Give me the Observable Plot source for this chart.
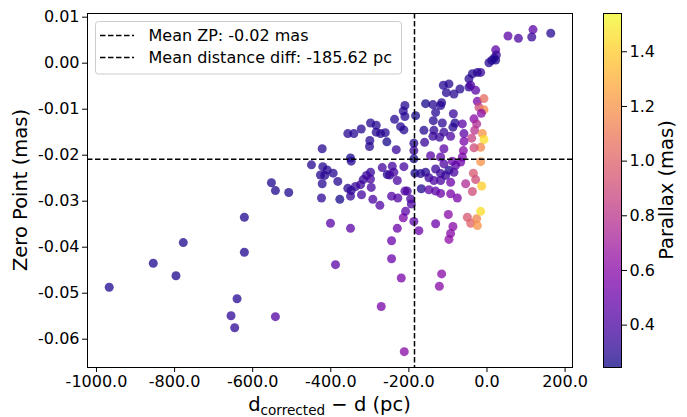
<!DOCTYPE html>
<html><head><meta charset="utf-8">
<script src="https://cdn.jsdelivr.net/npm/d3@7"></script>
<script src="https://cdn.jsdelivr.net/npm/@observablehq/plot@0.6"></script>
<style>
body{margin:0;background:#fff;font-family:"DejaVu Sans",sans-serif;}
#wrap{position:relative;width:687px;height:417px;overflow:hidden;}
#wrap svg{position:absolute;top:0;}
</style></head><body><div id="wrap"></div>
<script>
// d_corrected - d (pc)
const distDiff = [
  -967.4,-854.6,-796.4,-777.7,-640.0,-655.4,-646.1,-621.3,-621.3,-541.8,-552.0,-541.8,-507.7,
  -210.2,-214.4,-210.2,-236.7,-298.2,-283.6,-322.0,-221.3,-212.8,-356.4,-341.0,-283.6,-272.5,-260.5,-300.0,-256.4,-300.8,-232.3,-422.0,-349.5,-347.7,-449.5,-420.5,-409.2,-393.8,-426.4,-415.4,-382.0,-422.0,-242.6,-268.2,-212.8,-255.4,-249.5,-238.5,-229.7,-298.2,-308.5,-316.9,-323.8,-336.7,-298.2,-296.4,-356.4,-347.7,-349.5,-321.3,-376.9,-423.8,-292.3,-274.3,-244.3,-228.2,-210.2,-214.4,-400.8,-349.5,-229.7,
  -174.4,-244.3,-244.3,-387.9,-219.5,-270.8,-211.8,
  -116.1,-122.0,
  -46.2,-97.4,-111.8,-69.2,-46.2,-104.1,-84.6,-157.2,-138.5,-116.1,-118.7,-131.5,-182.8,-86.2,-33.3,-137.4,-114.4,-82.0,-63.1,-26.4,-161.5,-135.9,-110.3,-87.2,-59.0,-31.5,-138.5,-121.3,-93.1,-39.2,-11.8,-7.7,-187.2,-159.7,-59.0,-60.5,-16.2,-33.3,-110.3,-144.4,-118.7,-63.1,-88.7,-187.2,-187.2,-16.2,
  -184.6,-170.0,-157.2,-131.5,-148.7,-135.9,-118.7,-110.3,-97.4,-84.6,-80.3,-67.4,-118.7,-93.1,-105.9,-34.9,-29.0,-54.6,-13.6,-37.4,-168.2,-204.1,-148.7,-131.5,-118.7,-93.1,-75.9,-195.6,-193.8,-208.5,-187.2,-131.5,-99.0,-87.2,-93.1,-97.4,-50.3,-41.8,-26.4,-24.6,-16.2,
  117.9,163.3,114.6,80.5,53.8,22.3,24.1,17.9,12.1,5.1,22.3,-16.2,-24.6,-37.4,-41.8,-29.0,-24.6,-7.7,-20.5,-7.7,-14.4
];
// Zero point (mas)
const zeroPoint = [
  -0.0487,-0.0435,-0.0462,-0.0390,-0.0512,-0.0549,-0.0575,-0.0335,-0.0411,-0.0551,-0.0260,-0.0277,-0.0281,
  -0.0092,-0.0104,-0.0116,-0.0122,-0.0130,-0.0135,-0.0143,-0.0138,-0.0145,-0.0153,-0.0153,-0.0150,-0.0153,-0.0151,-0.0168,-0.0171,-0.0181,-0.0188,-0.0186,-0.0206,-0.0213,-0.0221,-0.0225,-0.0232,-0.0239,-0.0243,-0.0244,-0.0257,-0.0262,-0.0224,-0.0227,-0.0225,-0.0242,-0.0243,-0.0237,-0.0255,-0.0237,-0.0244,-0.0253,-0.0264,-0.0268,-0.0252,-0.0270,-0.0272,-0.0277,-0.0289,-0.0286,-0.0296,-0.0293,-0.0296,-0.0309,-0.0289,-0.0293,-0.0278,-0.0336,-0.0348,-0.0359,-0.0359,
  -0.0364,-0.0386,-0.0425,-0.0438,-0.0467,-0.0529,-0.0627,
  -0.0458,-0.0485,
  -0.0034,-0.0045,-0.0048,-0.0056,-0.0052,-0.0064,-0.0067,-0.0088,-0.0090,-0.0086,-0.0092,-0.0107,-0.0114,-0.0110,-0.0121,-0.0125,-0.0130,-0.0130,-0.0132,-0.0132,-0.0146,-0.0146,-0.0150,-0.0139,-0.0153,-0.0146,-0.0159,-0.0161,-0.0159,-0.0163,-0.0153,-0.0166,-0.0174,-0.0172,-0.0170,-0.0190,-0.0183,-0.0184,-0.0186,-0.0201,-0.0204,-0.0204,-0.0213,-0.0190,-0.0208,-0.0214,
  -0.0239,-0.0240,-0.0237,-0.0230,-0.0249,-0.0255,-0.0240,-0.0219,-0.0233,-0.0237,-0.0222,-0.0215,-0.0255,-0.0259,-0.0244,-0.0239,-0.0253,-0.0262,-0.0267,-0.0279,-0.0273,-0.0278,-0.0275,-0.0278,-0.0283,-0.0284,-0.0293,-0.0295,-0.0306,-0.0322,-0.0344,-0.0349,-0.0329,-0.0355,-0.0370,-0.0383,-0.0335,-0.0348,-0.0338,-0.0353,-0.0322,
  0.0073,0.0065,0.0057,0.0054,0.0059,0.0029,0.0018,0.0011,0.0006,0.0001,0.0007,-0.0020,-0.0020,-0.0023,-0.0048,-0.0059,-0.0083,-0.0077,-0.0096,-0.0101,-0.0109
];
// Parallax (mas)
const parallax = [
  0.28,0.28,0.28,0.28,0.30,0.32,0.32,0.28,0.28,0.42,0.28,0.28,0.28,
  0.30,0.30,0.30,0.30,0.30,0.30,0.30,0.30,0.30,0.30,0.30,0.30,0.30,0.30,0.30,0.26,0.30,0.35,0.30,0.26,0.30,0.30,0.30,0.30,0.30,0.30,0.30,0.30,0.30,0.38,0.38,0.38,0.30,0.35,0.38,0.40,0.35,0.35,0.35,0.35,0.35,0.38,0.38,0.30,0.32,0.35,0.38,0.26,0.32,0.40,0.42,0.42,0.42,0.42,0.55,0.45,0.45,0.50,
  0.50,0.50,0.50,0.45,0.55,0.55,0.60,
  0.60,0.60,
  0.30,0.30,0.30,0.30,0.32,0.30,0.30,0.26,0.30,0.30,0.30,0.30,0.26,0.35,0.60,0.30,0.32,0.28,0.45,0.75,0.30,0.32,0.35,0.30,0.45,0.80,0.35,0.35,0.40,0.85,1.20,1.45,0.30,0.35,0.55,0.60,1.15,0.90,0.45,0.45,0.45,0.55,0.50,0.35,0.26,1.20,
  0.26,0.30,0.30,0.35,0.35,0.40,0.35,0.40,0.28,0.40,0.45,0.50,0.40,0.50,0.35,0.95,0.90,0.75,1.40,0.90,0.28,0.40,0.45,0.45,0.50,0.55,0.55,0.40,0.40,0.45,0.45,0.50,0.60,0.60,0.60,0.62,0.95,1.00,1.15,1.20,1.45,
  0.45,0.30,0.35,0.40,0.45,0.45,0.35,0.30,0.28,0.30,0.28,0.35,0.30,0.30,0.40,0.45,0.55,1.05,0.90,1.15,0.60
];
const xTicks = [-1000, -800, -600, -400, -200, 0, 200];
const yTicks = [0.01, 0.00, -0.01, -0.02, -0.03, -0.04, -0.05, -0.06];
const cbTicks = [0.4, 0.6, 0.8, 1.0, 1.2, 1.4];
const meanZP = -0.0209;
const meanDist = -185.62;
const legendLabels = ["Mean ZP: -0.02 mas", "Mean distance diff: -185.62 pc"];
const xDomain = [-1023, 219];
const yDomain = [-0.06615, 0.0108];
const colorDomain = [0.245, 1.54];

const rows = distDiff.map((d, i) => ({d, zp: zeroPoint[i], plx: parallax[i]}));
const FONT = "DejaVu Sans";
const colorOpts = {type: "linear", scheme: "plasma", domain: colorDomain};

const main = Plot.plot({
  width: 687, height: 417,
  marginLeft: 87, marginRight: 115, marginTop: 13, marginBottom: 50,
  style: {fontFamily: FONT, fontSize: "16px", background: "transparent", color: "black"},
  x: {domain: xDomain, ticks: xTicks, tickFormat: d => d.toFixed(1), tickSize: 5, tickPadding: 3, label: null},
  y: {domain: yDomain, ticks: yTicks, tickFormat: d => d.toFixed(2), tickSize: 5, tickPadding: 3, label: null},
  color: colorOpts,
  marks: [
    Plot.dot(rows, {x: "d", y: "zp", fill: "plx", r: 4.5, fillOpacity: 0.75, stroke: "none"}),
    Plot.ruleY([meanZP], {stroke: "black", strokeWidth: 1.5, strokeDasharray: "5.5,2.5"}),
    Plot.ruleX([meanDist], {stroke: "black", strokeWidth: 1.5, strokeDasharray: "5.5,2.5"}),
    Plot.frame({stroke: "black"})
  ]
});
main.style.left = "0px";
document.getElementById("wrap").appendChild(main);

const svg = d3.select(main);
// legend
const lg = svg.append("g").attr("text-anchor", "start");
lg.append("rect").attr("x", 95.5).attr("y", 21.5).attr("width", 306).attr("height", 52.5)
  .attr("rx", 3).attr("fill", "white").attr("fill-opacity", 0.8).attr("stroke", "#cccccc");
legendLabels.forEach((t, i) => {
  const yy = 35.5 + i * 22;
  lg.append("line").attr("x1", 100).attr("x2", 134).attr("y1", yy).attr("y2", yy)
    .attr("stroke", "black").attr("stroke-width", 1.5).attr("stroke-dasharray", "5.5,2.5");
  lg.append("text").attr("x", 148.5).attr("y", yy).attr("dy", "0.35em").attr("text-anchor", "start")
    .attr("font-family", FONT).attr("font-size", 16).attr("fill", "black").text(t);
});
// axis labels
svg.append("text").attr("transform", "translate(26.5,190) rotate(-90)")
  .attr("text-anchor", "middle").attr("font-family", FONT).attr("font-size", 19.5).attr("fill", "black")
  .text("Zero Point (mas)");
const xl = svg.append("text").attr("x", 329.5).attr("y", 411).attr("text-anchor", "middle")
  .attr("font-family", FONT).attr("font-size", 19.5).attr("fill", "black");
xl.append("tspan").text("d");
xl.append("tspan").attr("font-size", 13.6).attr("dy", 3.5).text("corrected");
xl.append("tspan").attr("dy", -3.5).text(" \u2212 d (pc)");

// colorbar
const [lo, hi] = colorDomain;
const n = 240;
const bands = d3.range(n).map(i => ({y1: lo + (hi - lo) * i / n, y2: lo + (hi - lo) * (i + 1) / n, v: lo + (hi - lo) * (i + 0.5) / n}));
const cb = Plot.plot({
  width: 97, height: 417,
  marginLeft: 13, marginRight: 66, marginTop: 13, marginBottom: 50,
  style: {fontFamily: FONT, fontSize: "16px", background: "transparent", color: "black"},
  x: {domain: [0, 1], axis: null},
  y: {domain: colorDomain, axis: "right", ticks: cbTicks, tickFormat: d => d.toFixed(1), tickSize: 5, tickPadding: 3, label: null},
  color: colorOpts,
  marks: [
    Plot.rect(bands, {x1: 0, x2: 1, y1: "y1", y2: "y2", fill: "v", fillOpacity: 0.75, shapeRendering: "crispEdges"}),
    Plot.frame({stroke: "black"})
  ]
});
cb.style.left = "590px";
document.getElementById("wrap").appendChild(cb);
d3.select(cb).append("text").attr("transform", "translate(82.5,190) rotate(-90)")
  .attr("text-anchor", "middle").attr("font-family", FONT).attr("font-size", 19.5).attr("fill", "black")
  .text("Parallax (mas)");
</script></body></html>
